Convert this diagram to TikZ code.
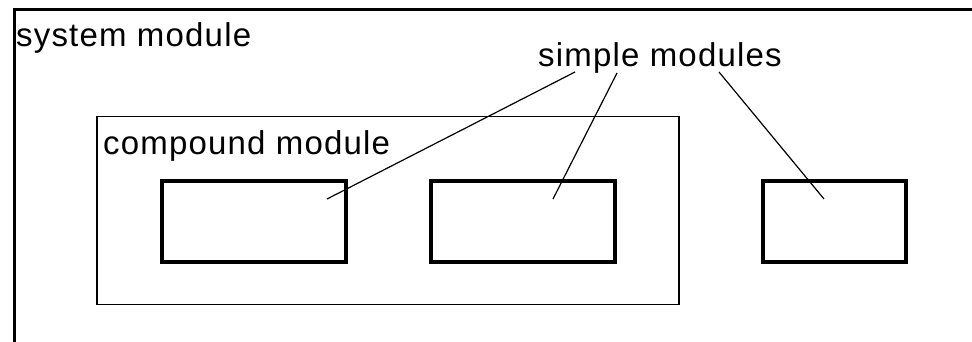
\documentclass[tikz,border=0pt]{standalone}
\usepackage{fontspec}
\setmainfont[LetterSpace=3.6]{Liberation Sans}
\begin{document}
\begin{tikzpicture}[x=1pt,y=-1pt,
  label/.style={anchor=base west,inner sep=0pt,font=\fontsize{33}{40}\selectfont},
  simplebox/.style={draw,line width=4pt,inner sep=0pt,minimum width=#1,minimum height=81pt},
  compoundbox/.style={draw,line width=1.8pt,inner sep=0pt,minimum width=582pt,minimum height=188pt},
  pointer/.style={line width=1.2pt}]
  \useasboundingbox (0,0) rectangle (972,342);

  % system module: only its top and left edges fall inside the frame
  \draw[line width=3pt] (14,342) -- (14,10) -- (972,10);
  \node[label] (sys) at (16,47) {system module};

  % compound module holding two simple modules
  \node[compoundbox] (cmp) at (388,210.5) {};
  \node[label] (cmplbl) at (103,155) {compound module};
  \node[simplebox=184pt] (s1) at (253.5,221.5) {};
  \node[simplebox=184pt] (s2) at (523,221.5) {};

  % simple module directly inside the system module
  \node[simplebox=143pt] (s3) at (834.5,221.5) {};

  % label and its pointers
  \node[label] (simp) at (538,67) {simple modules};
  \coordinate (t1) at (575,72);
  \coordinate (t2) at (617,73);
  \coordinate (t3) at (719,72);
  \coordinate (e1) at (327,199);
  \coordinate (e2) at (553,199);
  \coordinate (e3) at (824,199);
  \draw[pointer] (t1) -- (e1);
  \draw[pointer] (t2) -- (e2);
  \draw[pointer] (t3) -- (e3);
\end{tikzpicture}
\end{document}
